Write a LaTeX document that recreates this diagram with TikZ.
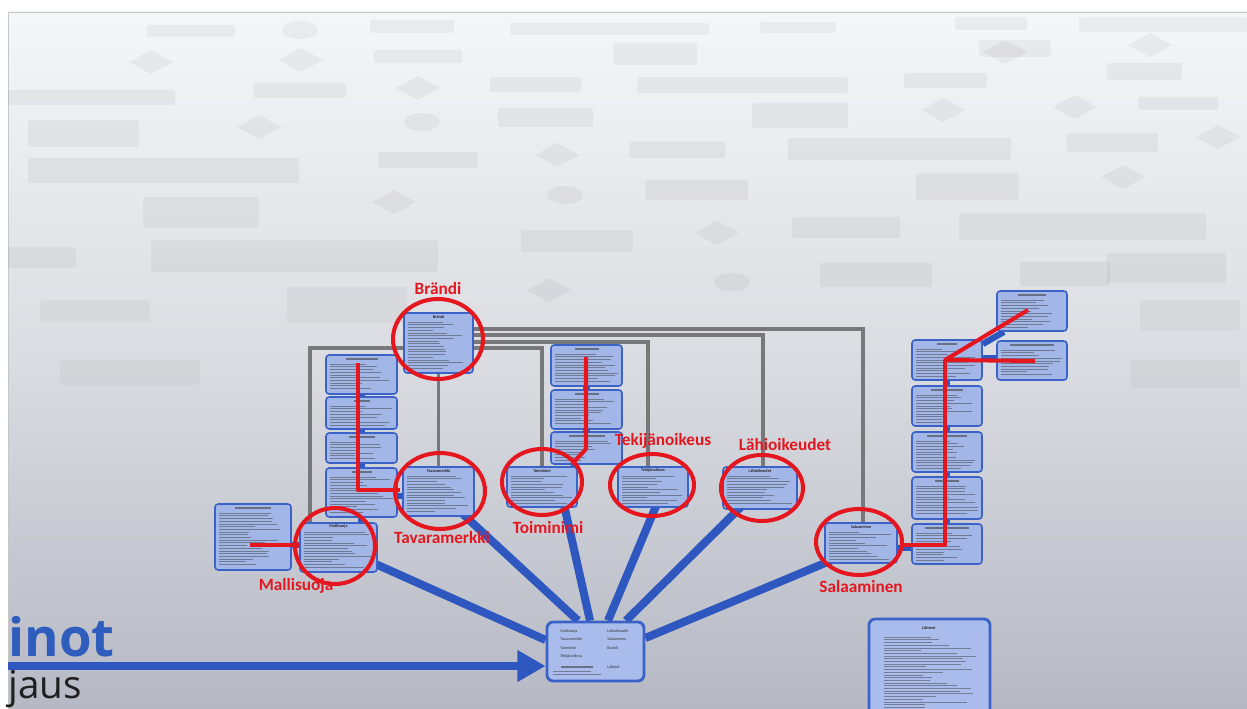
\documentclass[tikz,border=0pt]{standalone}
\usepackage{fontspec}
\setmainfont{Carlito}
\newfontfamily\slidefont{Open Sans}
\usetikzlibrary{calc,fit,arrows.meta}
\definecolor{boxfill}{HTML}{A3B6E8}
\definecolor{hubfill}{HTML}{AABCEB}
\definecolor{boxline}{HTML}{3B63C7}
\definecolor{fanblue}{HTML}{2E57C0}
\definecolor{ringred}{HTML}{E5161E}
\definecolor{connGrey}{HTML}{78787A}
\definecolor{titleblue}{HTML}{2F5DBE}
\definecolor{slidetop}{HTML}{F5F6F8}
\definecolor{slidemid}{HTML}{DADCE1}
\definecolor{slidebot}{HTML}{B6B9C4}
\pgfdeclarelayer{back}
\pgfdeclarelayer{bg}
\pgfdeclarelayer{front}
\pgfsetlayers{back,bg,main,front}
\tikzset{
  ibox/.style={draw=boxline, fill=boxfill, line width=0.9pt, rounded corners=1.8pt, inner sep=0pt},
  hubbox/.style={draw=boxline, fill=hubfill, line width=1.6pt, rounded corners=3.5pt, inner sep=0pt},
  fan/.style={draw=fanblue, line width=4.6pt},
  gcon/.style={draw=connGrey, line width=2pt},
  bcon/.style={draw=fanblue, line width=3.6pt},
  ring/.style={draw=ringred, line width=2.3pt},
  redpath/.style={draw=ringred, line width=2.3pt, line join=round},
  rlabel/.style={text=ringred, font=\bfseries\fontsize{9.8}{10}\selectfont, anchor=base, inner sep=0pt},
  btitle/.style={font=\bfseries\fontsize{2.4}{2.6}\selectfont, text=black!85, inner sep=0pt},
  hubtxt/.style={font=\fontsize{2.3}{2.5}\selectfont, text=black!80, inner sep=0pt, anchor=west},
  titlebar/.style={fill=black!75, opacity=0.6},
  txtline/.style={draw=black!75, opacity=0.5, line width=0.3pt},
  ghost/.style={fill=black, opacity=0.045},
  ghostlow/.style={fill=black, opacity=0.03},
}
\newcommand{\bodylines}[4]{%
  \pgfmathsetmacro\blA{#2}\pgfmathsetmacro\blB{#2+2.7}\pgfmathsetmacro\blC{#4}%
  \foreach \yy in {\blA,\blB,...,\blC}{%
    \pgfmathsetmacro\bllen{(#3-#1)*(0.4+0.6*rnd)}%
    \draw[txtline] (#1,\yy) -- ++(\bllen,0);}}
\newcommand{\boxbody}[4]{%
  \pgfmathsetmacro\bxa{#1+4}\pgfmathsetmacro\bya{#2+9}%
  \pgfmathsetmacro\bxb{#3-4}\pgfmathsetmacro\byb{#4-4}%
  \bodylines{\bxa}{\bya}{\bxb}{\byb}}
\newcommand{\ibx}[6]{%
  \node[ibox, fit={(#2,#3) (#4,#5)}] (#1) {};
  \node[btitle] (#1-t) at ($(#1.north)+(0,4.6)$) {#6};
  \boxbody{#2}{#3}{#4}{#5}}
\newcommand{\ibxu}[6]{%
  \node[ibox, fit={(#2,#3) (#4,#5)}] (#1) {};
  \fill[titlebar] ($(#1.north)+(-#6,3.8)$) rectangle ($(#1.north)+(#6,5.4)$);
  \boxbody{#2}{#3}{#4}{#5}}
\begin{document}
\begin{tikzpicture}[x=0.02cm,y=-0.02cm]
\pgfmathsetseed{4242}
\useasboundingbox (0,0) rectangle (1247,709);
% ---------- background slide ----------
\begin{pgfonlayer}{back}
\fill[white] (0,0) rectangle (1247,709);
\shade[top color=slidetop, bottom color=slidebot, middle color=slidemid] (8,12) rectangle (1247,709);
\draw[black!22, line width=0.4pt] (8,709) -- (8,12) -- (1247,12);
\foreach \a/\b/\c/\d in {147/25/235/37, 370/20/454/33, 510/23/709/35, 760/22/836/33, 955/17/1027/30, 1079/17/1247/32,
  374/50/462/63, 613/43/697/65, 979/40/1051/57, 1107/63/1182/80, 8/90/175/105, 253/83/346/98, 490/77/581/92,
  637/77/848/93, 904/73/987/88, 1138/97/1218/110, 28/120/139/147, 498/108/593/127, 752/103/848/128,
  28/158/299/183, 378/152/478/168, 629/142/725/158, 788/138/1011/160, 1067/133/1158/152, 143/197/259/228,
  645/180/748/200, 916/173/1019/200, 151/240/438/272, 521/230/633/252, 792/217/900/238, 959/213/1206/240,
  1107/253/1226/283, 820/263/932/287, 8/247/76/268, 1020/262/1110/286}
  {\fill[ghost, rounded corners=1pt] (\a,\b) rectangle (\c,\d);}
\foreach \a/\b/\c/\d in {287/287/407/323, 40/300/150/322, 60/360/200/385,
  1140/300/1240/330, 1130/360/1240/388}
  {\fill[ghostlow, rounded corners=1pt] (\a,\b) rectangle (\c,\d);}
\foreach \a/\b in {151/62, 301/60, 418/88, 259/127, 557/155, 394/202, 717/233, 943/110, 1075/107, 1123/177, 1218/137, 549/290, 1005/52, 1150/45}
  {\fill[ghost] ({\a-22},\b) -- (\a,{\b-12}) -- ({\a+22},\b) -- (\a,{\b+12}) -- cycle;}
\foreach \a/\b in {422/122, 565/195, 732/282, 300/30}
  {\fill[ghost] (\a,\b) ellipse [x radius=18, y radius=9];}
\end{pgfonlayer}
% ---------- slide text ----------
\node[anchor=base west, inner sep=0pt, text=titleblue, font=\slidefont\bfseries\fontsize{30}{30}\selectfont] (slidetitle) at (8,656) {inot};
\node[anchor=base west, inner sep=0pt, text=black!88, font=\slidefont\fontsize{22}{23}\selectfont] (slidesub) at (8,698) {jaus};
% ---------- boxes ----------
\ibx{brandi}{404}{313}{473}{373}{Brändi}
\ibxu{lc1}{326}{355}{397}{394}{16}
\ibxu{lc2}{326}{397}{397}{429}{8}
\ibxu{lc3}{326}{433}{397}{463}{13}
\ibxu{lc4}{326}{468}{397}{517}{10}
\ibx{tavaramerkki}{403}{467}{474}{516}{Tavaramerkki}
\ibx{mallisuoja}{300}{523}{377}{572}{Mallisuoja}
\ibxu{msleft}{215}{504}{291}{570}{18}
\ibxu{mc1}{551}{345}{622}{386}{12}
\ibxu{mc2}{551}{390}{622}{429}{12}
\ibxu{mc3}{551}{432}{622}{464}{18}
\ibx{toiminimi}{507}{467}{577}{507}{Toiminimi}
\ibx{tekijanoikeus}{618}{467}{688}{507}{Tekijänoikeus}
\ibx{lahioikeudet}{723}{467}{797}{509}{Lähioikeudet}
\ibx{salaaminen}{825}{523}{897}{563}{Salaaminen}
\ibxu{r1}{912}{340}{982}{380}{10}
\ibxu{r2}{912}{386}{982}{426}{16}
\ibxu{r3}{912}{432}{982}{472}{20}
\ibxu{r4}{912}{477}{982}{519}{12}
\ibxu{r5}{912}{524}{982}{564}{22}
\ibxu{t1}{997}{291}{1067}{331}{14}
\ibxu{t2}{997}{341}{1067}{380}{22}
% hub
\node[hubbox, fit={(547,622) (644,681)}] (hub) {};
\node[hubtxt] (h1) at (560,631) {Mallisuoja};
\node[hubtxt] (h2) at (560,639.5) {Tavaramerkki};
\node[hubtxt] (h3) at (560,648) {Toiminimi};
\node[hubtxt] (h4) at (560,656.5) {Tekijänoikeus};
\node[hubtxt] (h6) at (607,631) {Lähioikeudet};
\node[hubtxt] (h7) at (607,639.5) {Salaaminen};
\node[hubtxt] (h8) at (607,648) {Brändi};
\node[hubtxt] (h9) at (607,667) {Lähteet};
\fill[titlebar] (561,666.3) rectangle (593,667.6);
\draw[txtline] (553,671) -- (591,671);
\draw[txtline] (553,674) -- (601,674);
% Lähteet box
\node[hubbox, fit={(869,619) (990,740)}] (lahteet) {};
\node[btitle] (lahteet-t) at (929,628) {Lähteet};
\bodylines{884}{637}{976}{712}
% ---------- connectors (behind) ----------
\begin{pgfonlayer}{bg}
\draw[gcon] (brandi.west |- 0,348) -| (mallisuoja.north -| 310,0);
\draw[gcon] (brandi.south) -- (tavaramerkki.north);
\draw[gcon] (brandi.east |- 0,348) -| (toiminimi.north -| 542,0);
\draw[gcon] (brandi.east |- 0,342) -| (tekijanoikeus.north -| 648,0);
\draw[gcon] (brandi.east |- 0,335) -| (lahioikeudet.north -| 763,0);
\draw[gcon] (brandi.east |- 0,329) -| (salaaminen.north -| 863,0);
% fan to hub
\draw[fan] (mallisuoja.center) -- (hub.west |- 0,640);
\draw[fan] (tavaramerkki.center) -- (hub.north -| 578,0);
\draw[fan] (toiminimi.center -| 560,0) -- (hub.north -| 590,0);
\draw[fan] (tekijanoikeus.center -| 664,0) -- (hub.north -| 608,0);
\draw[fan] (lahioikeudet.center) -- (hub.north -| 626,0);
\draw[fan] (salaaminen.center |- 0,548) -- (hub.east |- 0,638);
% small blue links
\draw[bcon] (lc1.south) -- (lc2.north);
\draw[bcon] (lc2.south) -- (lc3.north);
\draw[bcon] (lc3.south) -- (lc4.north);
\draw[bcon] (lc4.south) -- (lc4.south |- mallisuoja.north);
\draw[bcon] (lc4.east |- 0,496) -- (tavaramerkki.west |- 0,496);
\draw[bcon] (msleft.east |- 0,545) -- (mallisuoja.west |- 0,545);
\draw[bcon] (mc1.south) -- (mc2.north);
\draw[bcon] (mc2.south) -- (mc3.north);
\draw[bcon] (mc3.south -| 576,0) -- (toiminimi.north -| 571,0);
\draw[bcon] (r1.south) -- (r2.north);
\draw[bcon] (r2.south) -- (r3.north);
\draw[bcon] (r3.south) -- (r4.north);
\draw[bcon] (r4.south) -- (r5.north);
\draw[bcon] (salaaminen.east |- 0,548) -- (r5.west |- 0,548);
\draw[bcon] (r1.east |- 0,358) -- (t2.west |- 0,358);
\draw[bcon] (r1.east |- 0,344) -- (t1.south -| 1004,0);
\end{pgfonlayer}
% big arrow
\coordinate (arrowstart) at (8,666);
\draw[fanblue, line width=4.5pt, -{Triangle[length=16pt,width=17pt]}] (arrowstart) -- (hub.west |- 0,666);
% ---------- red annotations ----------
\begin{pgfonlayer}{front}
\draw[ring] (438,339) ellipse [x radius=45, y radius=40];
\draw[ring] (440,491) ellipse [x radius=45, y radius=38];
\draw[ring] (335,546) ellipse [x radius=40, y radius=38];
\draw[ring] (542,482) ellipse [x radius=40, y radius=33];
\draw[ring] (652,485) ellipse [x radius=42, y radius=31];
\draw[ring] (762,488) ellipse [x radius=41, y radius=33];
\draw[ring] (859,542) ellipse [x radius=43, y radius=33];
\coordinate (la) at (358,363);
\coordinate (lb) at (358,490);
\coordinate (lc) at (400,490);
\draw[redpath] (la) -- (lb) -- (lc);
\coordinate (ma) at (586,357);
\coordinate (mb) at (586,449);
\coordinate (mcc) at (572,464);
\draw[redpath] (ma) -- (mb) -- (mcc);
\coordinate (ra) at (1028,310);
\coordinate (rb) at (945,360);
\coordinate (rc) at (1035,361);
\coordinate (rd) at (945,545);
\coordinate (re) at (901,545);
\draw[redpath] (ra) -- (rb) -- (rc);
\draw[redpath] (rb) -- (rd) -- (re);
\coordinate (sa) at (250,545);
\coordinate (sb) at (299,545);
\draw[redpath] (sa) -- (sb);
\node[rlabel] (lbrandi) at (438,295) {Brändi};
\node[rlabel] (ltava) at (442,543) {Tavaramerkki};
\node[rlabel] (lmalli) at (296,590) {Mallisuoja};
\node[rlabel] (ltoimi) at (548,533) {Toiminimi};
\node[rlabel] (ltekij) at (663,445) {Tekijänoikeus};
\node[rlabel] (llahi) at (785,450) {Lähioikeudet};
\node[rlabel] (lsala) at (861,592) {Salaaminen};
\end{pgfonlayer}
\end{tikzpicture}
\end{document}
